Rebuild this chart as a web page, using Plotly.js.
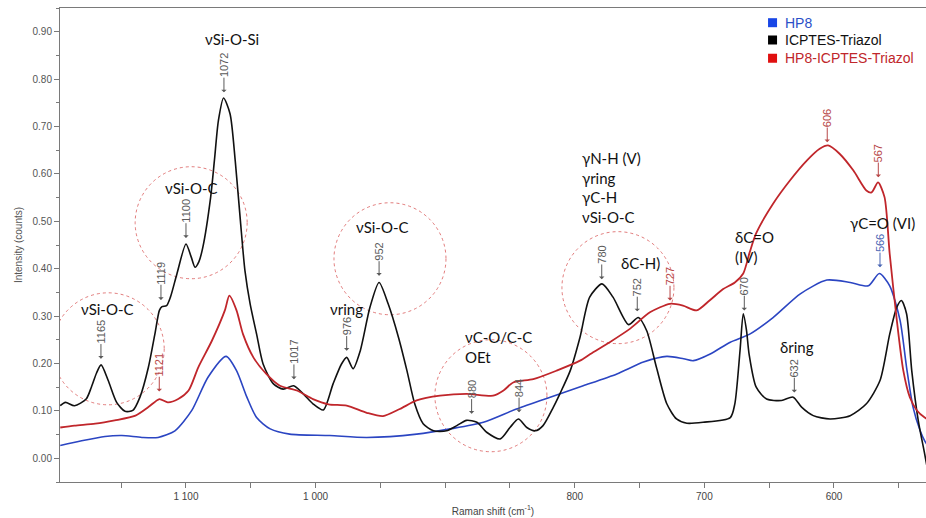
<!DOCTYPE html>
<html>
<head>
<meta charset="utf-8">
<script src="https://cdn.plot.ly/plotly-3.0.1.min.js"></script>
<style>html,body{margin:0;padding:0;background:#fff;}#chart{width:926px;height:518px;}</style>
</head>
<body>
<div id="chart"></div>
<script>
// ---- data ----
const seriesNames = ["HP8", "ICPTES-Triazol", "HP8-ICPTES-Triazol"];

const hp8X = [1197,1180.5,1162.5,1149.5,1134,1121.5,1108.5,1095.5,1083,1069,1061,1053,1045.5,1035,1020,989,960.5,922,896,870.5,845,819,793.5,767.5,747,729,716,708.5,695.5,680,665,647,626,605.5,587.5,573.5,565,557,549,544,539,533.5,530,526];
const hp8Y = [0.027,0.037,0.046,0.048,0.044,0.044,0.058,0.101,0.171,0.215,0.185,0.129,0.086,0.062,0.051,0.048,0.044,0.051,0.062,0.076,0.104,0.129,0.153,0.178,0.203,0.215,0.210,0.206,0.220,0.245,0.262,0.297,0.347,0.376,0.371,0.364,0.390,0.364,0.291,0.192,0.108,0.058,0.037,0.020];

const icptesX = [1197,1193,1186,1177,1173,1169,1165.5,1160,1153.5,1147,1141,1135.5,1129,1124,1120.5,1118.5,1115,1112,1107,1100,1096,1093,1090,1087,1081,1078,1075,1071,1066,1062,1058,1054.5,1050.5,1045.5,1040.5,1032.5,1025,1017,1009.5,1002,994,986.5,980,976,971,965.5,958,951,944,936,929.5,923.5,917,909,899,891,883.5,875.5,868,857.5,850,843.5,837,830.5,824.5,816.5,811.5,803.5,796,788.5,779,770.5,758.5,751,744.5,737,729,721.5,713.5,701,680,676.5,672.5,670,667.5,665.5,660,652,640.5,631.5,625,616,603,587.5,575,564.5,557,551.5,548,544,540,535,530,526];
const icptesY = [0.111,0.118,0.111,0.125,0.150,0.180,0.197,0.164,0.118,0.099,0.101,0.129,0.192,0.262,0.312,0.320,0.322,0.340,0.389,0.452,0.425,0.403,0.415,0.445,0.550,0.630,0.712,0.760,0.727,0.628,0.501,0.396,0.326,0.262,0.199,0.157,0.146,0.153,0.136,0.115,0.102,0.157,0.199,0.213,0.189,0.227,0.319,0.371,0.326,0.255,0.185,0.115,0.073,0.058,0.058,0.069,0.080,0.076,0.055,0.041,0.065,0.083,0.065,0.058,0.069,0.108,0.136,0.185,0.255,0.340,0.368,0.340,0.282,0.297,0.269,0.192,0.115,0.083,0.074,0.076,0.086,0.115,0.227,0.305,0.270,0.220,0.150,0.125,0.122,0.129,0.108,0.090,0.083,0.090,0.115,0.164,0.262,0.319,0.333,0.305,0.185,0.080,0.009,-0.050];

const hybridX = [1197,1186,1170,1155,1139,1129,1120.5,1114,1106,1098,1090.5,1080,1070,1066.5,1061,1056,1048,1038,1027.5,1014.5,1002,990,976,960.5,948,935,922,904,883.5,863,855,847.5,832,814,796,788,773,757.5,742,726.5,716.5,706,696,685.5,676.5,670,665,660,647,634,621,611,604.5,595.5,585,575,571,566,561,557,551.5,546.5,541.5,536,530,526];
const hybridY = [0.065,0.069,0.073,0.080,0.090,0.108,0.125,0.118,0.125,0.143,0.192,0.248,0.312,0.343,0.312,0.262,0.213,0.178,0.153,0.143,0.125,0.114,0.111,0.096,0.089,0.104,0.122,0.132,0.136,0.132,0.143,0.160,0.167,0.185,0.206,0.220,0.245,0.273,0.308,0.326,0.322,0.312,0.333,0.357,0.371,0.390,0.435,0.475,0.537,0.586,0.628,0.653,0.660,0.642,0.607,0.565,0.561,0.582,0.551,0.431,0.291,0.185,0.129,0.101,0.086,0.080];

const xTickVals = [1100, 1000, 800, 700, 600];
const xTickText = ["1 100", "1 000", "800", "700", "600"];
const yTickVals = [0, 0.1, 0.2, 0.3, 0.4, 0.5, 0.6, 0.7, 0.8, 0.9];

// peak labels: wavenumber text, which series colour
const peakLabels = ["1165","1121","1119","1100","1072","1017","976","952","880","844","780","752","727","670","632","606","567","566"];
const peakSeries = [1,2,1,1,1,1,1,1,1,1,1,1,2,1,1,2,2,0];

// band assignment labels
const bandLabels = ["νSi-O-Si","νSi-O-C","νSi-O-C","νSi-O-C","νring","νC-O/C-C<br>OEt","γN-H (V)<br>γring<br>γC-H<br>νSi-O-C","δC-H)","δC=O<br>(IV)","δring","γC=O (VI)"];

// ---- styles / positions ----
const lineColors = ["#2b45c2", "#111111", "#c0262b"];
const legendSquare = ["#1846e6", "#000000", "#e01010"];
const legendText = ["#2b4fc8", "#111111", "#c0262b"];
const labelColors = ["#4a66b4", "#5a5a5a", "#b84848"];

const peakPos = [
  [1165.6,0.210],[1120.6,0.141],[1119.3,0.334],[1100,0.465],[1070.7,0.772],[1016.7,0.167],
  [976,0.227],[951,0.385],[879.6,0.094],[843,0.097],[779.2,0.378],[751.8,0.310],
  [726.5,0.333],[669.2,0.312],[630.6,0.139],[605.2,0.667],[565.8,0.593],[564.5,0.403]
];
const bandPos = [
  [1064.5,0.885,"center"],[1160.6,0.316,"center"],[1096.1,0.571,"center"],[948,0.489,"center"],
  [975.8,0.314,"center"],[886.3,0.234,"left"],[796,0.571,"left"],[749.3,0.411,"center"],
  [677.9,0.445,"left"],[628.2,0.234,"center"],[562.2,0.497,"center"]
];
const circleCenters = [[1160,0.231],[1096,0.497],[942.6,0.421],[864.7,0.132],[766.7,0.360]];
// legend rows (paper coords)
const legendRowY = [0.969, 0.9325, 0.894];
const legendSqX = [0.8176, 0.8280];
const legendTextX = 0.8349;
const arrowLen = 13;

const xs = [hp8X, icptesX, hybridX];
const ys = [hp8Y, icptesY, hybridY];
const widths = [1.6, 1.6, 1.8];

const traces = [];
for (let i = 0; i < 3; i++) {
  traces.push({
    x: xs[i], y: ys[i], type: "scatter", mode: "lines", name: seriesNames[i],
    line: {color: lineColors[i], width: widths[i], shape: "spline", smoothing: 0.7},
    showlegend: false, hoverinfo: "skip"
  });
}

const annotations = [];
peakLabels.forEach((t, i) => {
  const col = labelColors[peakSeries[i]];
  const halfLen = t.length * 6.1 / 2 + 2;
  annotations.push({
    x: peakPos[i][0], y: peakPos[i][1], xref: "x", yref: "y",
    text: t, textangle: -90,
    showarrow: true, ax: 0, ay: -(arrowLen + halfLen), standoff: 0,
    arrowhead: 1, arrowsize: 0.9, arrowwidth: 1, arrowcolor: col,
    xanchor: "center", yanchor: "middle", borderpad: 0,
    font: {family: "Liberation Sans, Arial, sans-serif", size: 11, color: col}
  });
});
bandLabels.forEach((t, i) => {
  annotations.push({
    x: bandPos[i][0], y: bandPos[i][1], xref: "x", yref: "y",
    text: t, showarrow: false, align: "left",
    xanchor: bandPos[i][2], yanchor: "middle",
    font: {family: "Lato, 'Open Sans', sans-serif", size: 15, color: "#111"}
  });
});

const shapes = circleCenters.map(c => ({
  type: "circle", xref: "x", yref: "y",
  xsizemode: "pixel", ysizemode: "pixel",
  xanchor: c[0], yanchor: c[1],
  x0: -56, x1: 56, y0: -56, y1: 56,
  line: {color: "rgba(215,80,80,0.75)", width: 1, dash: "dot"},
  layer: "below"
}));

// legend drawn as squares + coloured text
seriesNames.forEach((n, i) => {
  shapes.push({
    type: "rect", xref: "paper", yref: "paper",
    x0: legendSqX[0], x1: legendSqX[1],
    y0: legendRowY[i] - 0.0095, y1: legendRowY[i] + 0.0095,
    fillcolor: legendSquare[i], line: {width: 0}
  });
  annotations.push({
    x: legendTextX, y: legendRowY[i], xref: "paper", yref: "paper",
    text: n, showarrow: false, xanchor: "left", yanchor: "middle",
    font: {family: "Liberation Sans, Arial, sans-serif", size: 14, color: legendText[i]}
  });
});

const layout = {
  width: 926, height: 518,
  margin: {l: 60, r: 0, t: 8, b: 36},
  paper_bgcolor: "#fff", plot_bgcolor: "#fff",
  font: {family: "Liberation Sans, Arial, sans-serif", color: "#444"},
  showlegend: false,
  xaxis: {
    range: [1197.2, 529], showgrid: false, zeroline: false,
    showline: true, linecolor: "#7a7a7a", linewidth: 1, mirror: true,
    ticks: "outside", ticklen: 5, tickcolor: "#7a7a7a",
    tickvals: xTickVals, ticktext: xTickText,
    tickfont: {family: "Liberation Sans Narrow, Arial Narrow, Liberation Sans, Arial", size: 10, color: "#444"},
    minor: {dtick: 50, tick0: 0, ticks: "outside", ticklen: 5, tickcolor: "#7a7a7a"},
    title: {text: "Raman shift (cm<sup>-1</sup>)", standoff: 6,
      font: {family: "Liberation Sans Narrow, Arial Narrow, Liberation Sans, Arial", size: 10, color: "#444"}}
  },
  yaxis: {
    range: [-0.05, 0.95], showgrid: false, zeroline: false,
    showline: true, linecolor: "#7a7a7a", linewidth: 1,
    ticks: "outside", ticklen: 5, tickcolor: "#7a7a7a",
    tickvals: yTickVals, tickformat: ".2f",
    tickfont: {size: 10, color: "#555"},
    minor: {dtick: 0.05, tick0: 0, ticks: "outside", ticklen: 3, tickcolor: "#7a7a7a"},
    title: {text: "Intensity (counts)", standoff: 8, font: {size: 10, color: "#555"}}
  },
  annotations: annotations,
  shapes: shapes
};

Plotly.newPlot("chart", traces, layout, {displayModeBar: false, staticPlot: true});
</script>
</body>
</html>
